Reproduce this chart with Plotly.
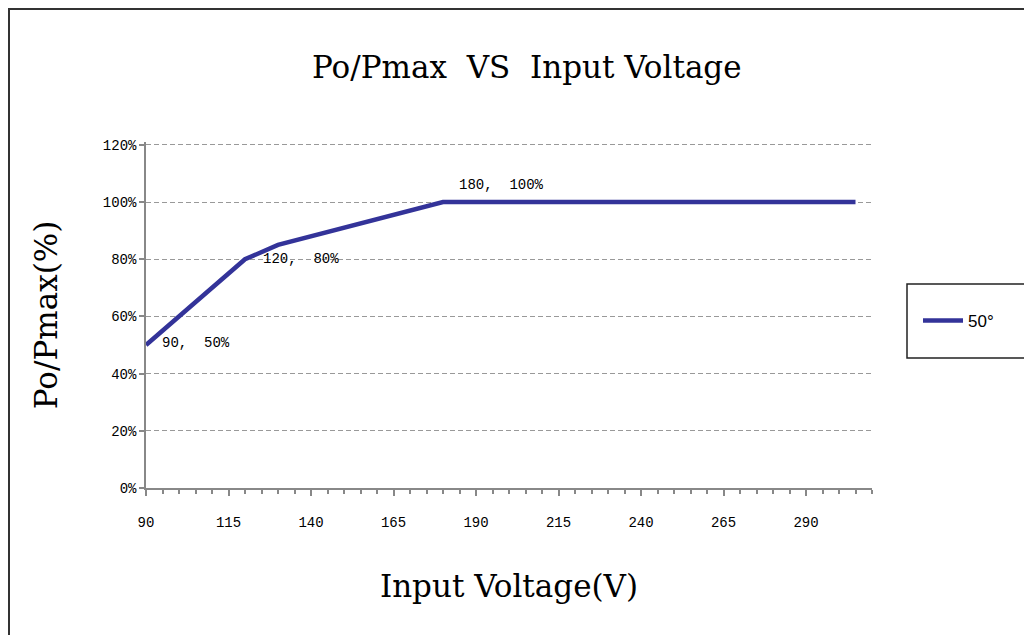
import plotly.graph_objects as go

# data
voltage = [90, 120, 130, 180, 305]
ratio = [50, 80, 85, 100, 100]
label_x = [90, 120, 180]
label_y = [50, 80, 100]
label_text = ["90,\u00a0\u00a050%", "120,\u00a0\u00a080%", "180,\u00a0\u00a0100%"]
y_ticks = [0, 20, 40, 60, 80, 100, 120]
y_ticktext = ["0%", "20%", "40%", "60%", "80%", "100%", "120%"]
x_ticks = [90, 115, 140, 165, 190, 215, 240, 265, 290]
series_name = "50°"

OFF = 8  # page body margin
Y_TOP = 121
W, H = 1032 - OFF, 635 - OFF
L, R, T, B = 146 - OFF, 1032 - 872, 142 - OFF, 635 - 488
pw = W - L - R
ph = H - T - B

def px2paper_x(px):
    return (px - OFF - L) / pw

def px2paper_y(py):
    return (H - B - (py - OFF)) / ph

tick_font = dict(family="Liberation Mono, DejaVu Sans Mono, monospace", size=14, color="#000")
title_font = dict(family="DejaVu Serif, Liberation Serif, serif", size=31, color="#000")

fig = go.Figure()
fig.add_trace(go.Scatter(
    x=voltage, y=ratio, mode="lines", name=series_name,
    line=dict(color="#333399", width=4.5),
))

annotations = []
shifts = [(14, 2), (16, 0), (14, 17)]
for xv, yv, t, (dx, dy) in zip(label_x, label_y, label_text, shifts):
    annotations.append(dict(
        x=xv, y=yv, xref="x", yref="y", text=t, showarrow=False,
        xanchor="left", yanchor="middle", xshift=dx, yshift=dy,
        font=tick_font,
    ))

annotations.append(dict(
    text="Po/Pmax\u00a0\u00a0VS\u00a0\u00a0Input\u00a0Voltage",
    x=px2paper_x(527), y=px2paper_y(67), xref="paper", yref="paper",
    showarrow=False, xanchor="center", yanchor="middle", font=title_font,
))

fig.update_layout(
    width=W, height=H,
    margin=dict(l=L, r=R, t=T, b=B, autoexpand=False),
    paper_bgcolor="white", plot_bgcolor="white",
    showlegend=True,
    legend=dict(
        x=px2paper_x(918), y=px2paper_y(321), xanchor="left", yanchor="middle",
        bgcolor="rgba(0,0,0,0)", borderwidth=0,
        font=dict(family="Liberation Sans, Arial, sans-serif", size=17, color="#000"),
        itemwidth=40,
    ),
    xaxis=dict(
        range=[90, 310], tickvals=x_ticks, ticktext=[str(v) for v in x_ticks],
        showgrid=False, zeroline=False,
        showline=True, linecolor="#888", linewidth=1.5,
        ticks="outside", ticklen=6, tickcolor="#888", tickwidth=1.5,
        minor=dict(dtick=5, tick0=90, ticks="outside", ticklen=4, tickcolor="#888", tickwidth=1.5, showgrid=False),
        tickfont=tick_font, ticklabelstandoff=14,
        title=dict(text="Input\u00a0Voltage(V)", font=title_font, standoff=46),
    ),
    yaxis=dict(
        range=[0, Y_TOP], tickvals=y_ticks, ticktext=y_ticktext,
        showgrid=True, gridcolor="#999", griddash="5px,3px", gridwidth=1,
        zeroline=False,
        showline=True, linecolor="#888", linewidth=1.5,
        ticks="outside", ticklen=5, tickcolor="#888", tickwidth=1.5,
        tickfont=tick_font,
        title=dict(text="Po/Pmax(%)", font=title_font, standoff=36),
    ),
    annotations=annotations,
    shapes=[
        dict(type="rect", xref="paper", yref="paper",
             x0=px2paper_x(9), x1=px2paper_x(1045), y0=px2paper_y(650), y1=px2paper_y(9),
             line=dict(color="#333", width=2), fillcolor="rgba(0,0,0,0)", layer="below"),
        dict(type="rect", xref="paper", yref="paper",
             x0=px2paper_x(907), x1=px2paper_x(1026), y0=px2paper_y(358), y1=px2paper_y(284),
             line=dict(color="#222", width=1.5), fillcolor="rgba(0,0,0,0)"),
    ],
)

fig.write_html("out.html")
